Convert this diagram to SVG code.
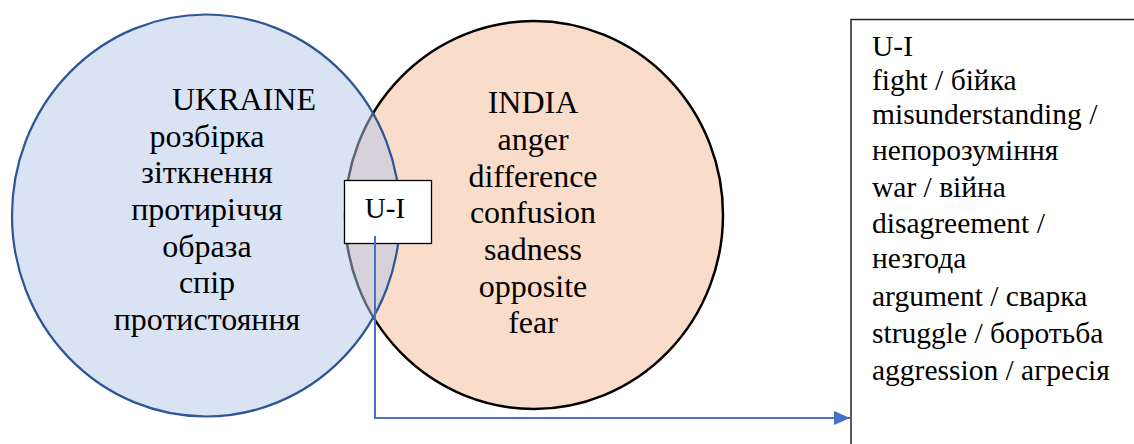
<svg xmlns="http://www.w3.org/2000/svg" width="1134" height="444" viewBox="0 0 1134 444">
<style>
text{font-family:"Liberation Serif","Times New Roman",serif;fill:#000}
.c{font-size:32px;text-anchor:middle}
.b{font-size:29.5px}
.s{font-size:29px;text-anchor:middle}
</style>
<defs>
<marker id="ah" markerWidth="16" markerHeight="14" refX="16" refY="7" orient="auto" markerUnits="userSpaceOnUse">
<path d="M0,0 L16,7 L0,14 Z" fill="#4472C4"/>
</marker>
</defs>
<rect width="1134" height="444" fill="#fff"/>
<g id="india">
<ellipse cx="534" cy="215" rx="189" ry="194" fill="#FADCCA" stroke="#000" stroke-width="2.5"/>
</g>
<g id="ukraine">
<ellipse cx="206" cy="215.5" rx="194" ry="201" fill="#B4C7E7" fill-opacity="0.5" stroke="#2F5597" stroke-width="2.2"/>
<text class="c" x="244" y="110">UKRAINE</text>
<text class="c" x="207" y="147">розбірка</text>
<text class="c" x="207" y="183">зіткнення</text>
<text class="c" x="207" y="220">протиріччя</text>
<text class="c" x="207" y="257">образа</text>
<text class="c" x="207" y="293">спір</text>
<text class="c" x="207" y="330">протистояння</text>
</g>
<g id="india-text">
<text class="c" x="533" y="113">INDIA</text>
<text class="c" x="533" y="150">anger</text>
<text class="c" x="533" y="187">difference</text>
<text class="c" x="533" y="223">confusion</text>
<text class="c" x="533" y="260">sadness</text>
<text class="c" x="533" y="297">opposite</text>
<text class="c" x="533" y="333">fear</text>
</g>
<g id="ui-box">
<rect x="344.5" y="180.5" width="87" height="63" fill="#fff" stroke="#000" stroke-width="1.3"/>
<text class="s" x="385" y="218">U-I</text>
</g>
<g id="list-box">
<path d="M851,445 V19.5 H1135" fill="none" stroke="#222" stroke-width="1.5"/>
<text class="b" x="872" y="56">U-I</text>
<text class="b" x="872" y="90">fight / бійка</text>
<text class="b" x="872" y="124">misunderstanding /</text>
<text class="b" x="872" y="160">непорозуміння</text>
<text class="b" x="872" y="197">war / війна</text>
<text class="b" x="872" y="233">disagreement /</text>
<text class="b" x="872" y="268">незгода</text>
<text class="b" x="872" y="306">argument / сварка</text>
<text class="b" x="872" y="343">struggle / боротьба</text>
<text class="b" x="872" y="380">aggression / агресія</text>
</g>
<g id="connectors">
<path d="M375,236 V418 H850" fill="none" stroke="#4472C4" stroke-width="2" marker-end="url(#ah)"/>
</g>
</svg>
